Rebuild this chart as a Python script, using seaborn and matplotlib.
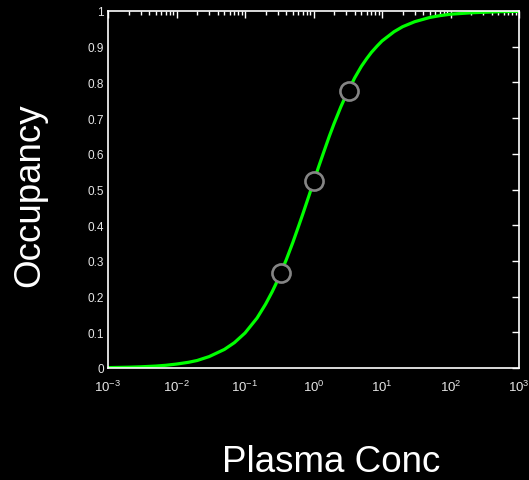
import matplotlib
matplotlib.use("Agg")
import matplotlib.pyplot as plt
import matplotlib.ticker as mticker
import seaborn as sns
import pandas as pd

# curve
conc = [0.001, 0.002, 0.003, 0.005, 0.007, 0.01, 0.015, 0.02, 0.03, 0.05, 0.07, 0.1,
        0.15, 0.2, 0.25, 0.3, 0.4, 0.5, 0.6, 0.7, 0.85, 1.0, 1.2, 1.4, 1.7, 2.0, 2.5,
        3.0, 4.0, 5.0, 6.0, 7.0, 8.5, 10, 15, 20, 30, 50, 70, 100, 200, 500, 1000]
occ = [0.0011, 0.0022, 0.0033, 0.0054, 0.0076, 0.011, 0.016, 0.021, 0.032, 0.052,
       0.071, 0.098, 0.14, 0.179, 0.214, 0.246, 0.303, 0.352, 0.395, 0.432, 0.480,
       0.521, 0.566, 0.603, 0.649, 0.685, 0.731, 0.765, 0.813, 0.845, 0.867, 0.884,
       0.902, 0.916, 0.942, 0.956, 0.970, 0.982, 0.987, 0.991, 0.995, 0.998, 0.999]
# marked points
pt_conc = [0.333, 1.0, 3.33]
pt_occ = [0.265, 0.525, 0.775]
y_ticks = [0, 0.1, 0.2, 0.3, 0.4, 0.5, 0.6, 0.7, 0.8, 0.9, 1]
y_labels = ["0", "0.1", "0.2", "0.3", "0.4", "0.5", "0.6", "0.7", "0.8", "0.9", "1"]

sns.set_style("dark", {"axes.facecolor": "black", "figure.facecolor": "black",
                       "axes.edgecolor": "white", "axes.grid": False})
plt.rcParams['font.family'] = ['Liberation Sans', 'DejaVu Sans']

fig = plt.figure(figsize=(5.29, 4.81), dpi=100)
fig.patch.set_facecolor("black")
ax = fig.add_axes([108/529, 1-369/481, 411/529, 357/481])
ax.set_facecolor("black")

curve = pd.DataFrame({"conc": conc, "occ": occ})
pts = pd.DataFrame({"conc": pt_conc, "occ": pt_occ})
sns.lineplot(data=curve, x="conc", y="occ", ax=ax, color="#00ff00", lw=2.3, zorder=2)
sns.scatterplot(data=pts, x="conc", y="occ", ax=ax, s=170, facecolor="black",
                edgecolor="#858585", linewidth=1.9, zorder=3)

ax.set_xscale("log")
ax.set_xlim(1e-3, 1e3)
ax.set_ylim(0, 1)
ax.set_yticks(y_ticks)
ax.set_yticklabels(y_labels)
ax.xaxis.set_major_locator(mticker.LogLocator(base=10, numticks=10))
ax.xaxis.set_minor_locator(mticker.LogLocator(base=10, subs=range(2, 10), numticks=20))

for s in ax.spines.values():
    s.set_color("white")
    s.set_linewidth(1.2)
ax.tick_params(which="both", direction="in", colors="white", top=True, right=True,
               width=1)
ax.tick_params(which="major", length=5)
ax.tick_params(which="minor", length=3)
ax.tick_params(axis="y", labelsize=8.5, pad=3)
ax.tick_params(axis="x", labelsize=9.5, pad=8)
for lab in ax.get_xticklabels() + ax.get_yticklabels():
    lab.set_color("#e6e6e6")

ax.set_xlabel("")
ax.set_ylabel("")
fig.text(30/529, 1-195/481, "Occupancy", rotation=90, color="white", fontsize=26.5,
         ha="center", va="center")
fig.text(331/529, 1-462/481, "Plasma Conc", color="white", fontsize=26.5,
         ha="center", va="center")

fig.savefig("out.png", dpi=100, facecolor="black")
